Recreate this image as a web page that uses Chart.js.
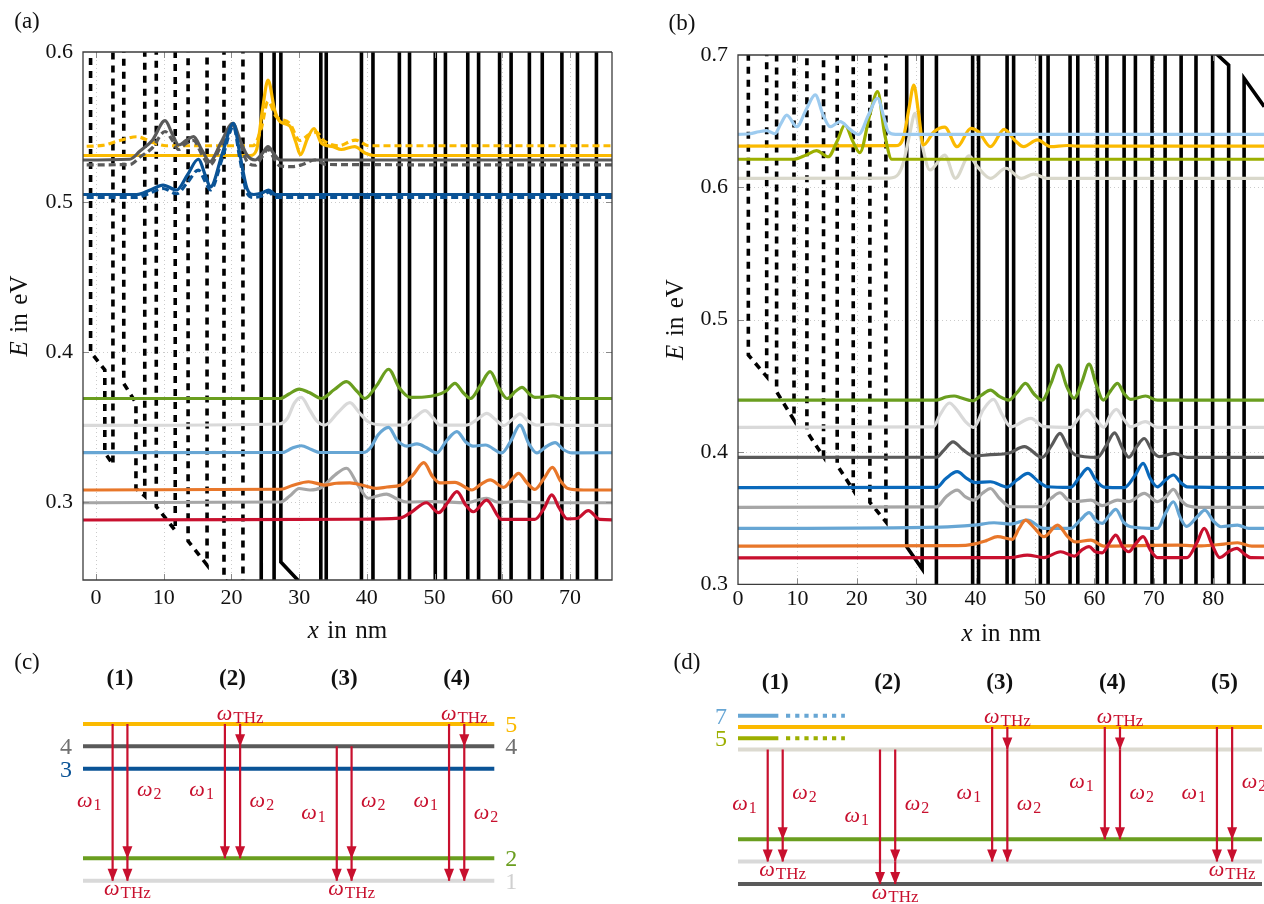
<!DOCTYPE html>
<html>
<head>
<meta charset="utf-8">
<script src="https://cdn.jsdelivr.net/npm/chart.js@4.4.1/dist/chart.umd.min.js"></script>
<style>
html,body{margin:0;padding:0;background:#fff;width:1264px;height:904px;overflow:hidden;position:relative;}
canvas{position:absolute;display:block;}
</style>
</head>
<body>
<canvas id="pa" width="640" height="650" style="left:0px;top:0px;width:640px;height:650px"></canvas>
<canvas id="pb" width="640" height="650" style="left:640px;top:0px;width:640px;height:650px"></canvas>
<canvas id="pc" width="640" height="254" style="left:0px;top:650px;width:640px;height:254px"></canvas>
<canvas id="pd" width="640" height="254" style="left:640px;top:650px;width:640px;height:254px"></canvas>
<script>
const SERIF = '"Liberation Serif","DejaVu Serif",serif';
const RED = '#c8102e';

/* ===================== panel (a) data ===================== */
const aXTicks = [0,10,20,30,40,50,60,70];
const aYTicks = [0.3,0.4,0.5,0.6];
const aPotDashed = [[-0.8,0.7],[-0.8,0.400],[1.3,0.388],[1.3,0.333],[2.5,0.325],[2.5,0.7],[4.1,0.7],[4.1,0.379],[5.9,0.366],[5.9,0.309],[7.2,0.304],[7.2,0.7],[8.9,0.7],[8.9,0.297],[11.7,0.281],[11.7,0.7],[13.6,0.7],[13.6,0.274],[16.4,0.258],[16.4,0.7],[18.9,0.7],[18.9,0.249],[21.7,0.235],[21.7,0.7]];
const aPotSolid = [[24.4,0.7],[24.4,0.2],[26.3,0.2],[26.3,0.7],[27.3,0.7],[27.3,0.260],[30.0,0.247],[33.2,0.232],[33.2,0.7],[34.0,0.7],[34.0,0.2],[39.2,0.2],[39.2,0.7],[40.9,0.7],[40.9,0.2],[44.8,0.2],[44.8,0.7],[46.3,0.7],[46.3,0.2],[50.1,0.2],[50.1,0.7],[51.6,0.7],[51.6,0.2],[54.9,0.2],[54.9,0.7],[56.5,0.7],[56.5,0.2],[59.6,0.2],[59.6,0.7],[61.3,0.7],[61.3,0.2],[64.0,0.2],[64.0,0.7],[65.9,0.7],[65.9,0.2],[68.8,0.2],[68.8,0.7],[71.1,0.7],[71.1,0.2],[73.9,0.2],[73.9,0.7],[80,0.7]];
const aYellow = [[-3,0.531],[22.8,0.531],[23.7,0.5347],[24.6,0.562],[25.4,0.5813],[26.4,0.561],[27.2,0.5535],[28.6,0.5507],[29.5,0.540],[30.2,0.5315],[31.2,0.542],[32.2,0.549],[33.3,0.5391],[35.0,0.5369],[36.2,0.535],[38.2,0.5369],[39.8,0.5325],[41,0.531],[78,0.531]];
const aYellowDash = [[-3,0.537],[1,0.5378],[3.5,0.541],[6.0,0.5435],[8.5,0.5395],[10.4,0.5375],[23.2,0.5375],[24.4,0.549],[25.4,0.567],[26.6,0.557],[28.6,0.5524],[30.1,0.541],[31.5,0.545],[32.6,0.5465],[33.6,0.541],[35.8,0.5375],[38.3,0.5413],[40.3,0.5375],[78,0.5375]];
const aDarkGray = [[-3,0.528],[5,0.5285],[6.5,0.534],[8.3,0.541],[10.2,0.5542],[11.3,0.545],[12.2,0.538],[13.3,0.541],[14.4,0.5436],[15.6,0.535],[16.8,0.5269],[18.5,0.540],[20.2,0.5525],[21.3,0.541],[22.3,0.5313],[23.5,0.528],[24.5,0.532],[25.4,0.5369],[26.3,0.532],[27.2,0.528],[78,0.528]];
const aDarkGrayDash = [[-3,0.5247],[5,0.525],[6.5,0.530],[8.3,0.536],[10.2,0.547],[11.3,0.541],[12.2,0.535],[13.3,0.539],[14.4,0.541],[15.6,0.532],[16.8,0.5245],[18.5,0.538],[20.2,0.551],[21.3,0.539],[22.3,0.527],[23.5,0.5245],[24.5,0.530],[25.4,0.535],[26.3,0.529],[27.2,0.524],[29,0.5236],[30.5,0.525],[32.3,0.528],[34,0.525],[78,0.5247]];
const aBlue = [[-3,0.505],[6,0.505],[8,0.508],[9.9,0.5113],[11.9,0.508],[13.5,0.518],[15.1,0.5285],[16.2,0.517],[16.9,0.510],[18.7,0.533],[20.3,0.5525],[21.2,0.533],[22.3,0.509],[23.3,0.505],[24.5,0.506],[25.5,0.508],[26.5,0.505],[78,0.505]];
const aBlueDash = [[-3,0.5031],[6,0.5031],[8,0.506],[9.9,0.509],[11.9,0.5055],[13.5,0.513],[15.1,0.5213],[16.2,0.513],[16.9,0.508],[18.7,0.530],[20.3,0.5505],[21.2,0.530],[22.3,0.506],[23.3,0.5031],[24.5,0.504],[25.5,0.5065],[26.5,0.5031],[78,0.5031]];
const aGreen = [[-3,0.369],[27.2,0.369],[28.5,0.372],[30.0,0.3753],[31.5,0.373],[33.3,0.369],[35.2,0.375],[37.0,0.3802],[38.5,0.374],[39.7,0.369],[41.5,0.378],[43.2,0.3885],[44.8,0.376],[46.4,0.3698],[48.5,0.370],[50.3,0.3713],[51.7,0.374],[53.0,0.3791],[54.2,0.373],[55.3,0.369],[56.8,0.378],[58.2,0.3869],[59.5,0.376],[60.7,0.369],[62.0,0.374],[62.9,0.3764],[64.0,0.372],[64.8,0.3698],[66,0.370],[67.5,0.3707],[69.4,0.369],[78,0.369]];
const aLightGray = [[-3,0.3511],[27.0,0.352],[28.3,0.356],[29.3,0.366],[30.3,0.3698],[31.6,0.361],[32.6,0.354],[33.8,0.3513],[35.8,0.360],[37.5,0.3662],[38.8,0.360],[40.2,0.3535],[42,0.3515],[45.4,0.3513],[47,0.356],[48.6,0.3609],[49.8,0.356],[50.8,0.3513],[54.7,0.3513],[56.3,0.355],[57.7,0.3591],[59,0.355],[60.2,0.351],[61.5,0.355],[62.6,0.3587],[63.8,0.354],[65.1,0.3513],[67.5,0.352],[69,0.3511],[78,0.3511]];
const aLightBlue = [[-3,0.3329],[27.5,0.333],[29,0.336],[30.3,0.3375],[31.8,0.335],[33.1,0.333],[39.5,0.333],[40.5,0.336],[41.7,0.345],[43.2,0.3498],[44.5,0.341],[45.9,0.3373],[47.4,0.3387],[48.9,0.336],[50.3,0.3327],[51.8,0.341],[53.3,0.3469],[54.6,0.340],[55.7,0.3373],[57.5,0.338],[59.9,0.3327],[61.3,0.341],[62.6,0.3513],[63.9,0.339],[65.1,0.3327],[66.5,0.337],[67.8,0.3396],[69,0.335],[70.3,0.3327],[78,0.3329]];
const aOrange = [[-3,0.308],[27.3,0.3085],[29,0.311],[31.4,0.3135],[33.8,0.3113],[35.5,0.3125],[37.5,0.3127],[39.5,0.311],[41.4,0.3091],[43,0.310],[45.0,0.3113],[46.8,0.318],[48.4,0.3262],[49.7,0.317],[50.8,0.3127],[53.0,0.3131],[55.5,0.308],[56.9,0.312],[58.2,0.3147],[60.2,0.3098],[61.4,0.315],[62.4,0.3191],[63.6,0.313],[64.8,0.3084],[66.2,0.316],[67.4,0.3231],[68.6,0.314],[69.7,0.309],[72,0.308],[78,0.308]];
const aGray = [[-3,0.2995],[27.3,0.300],[28.6,0.304],[30.0,0.309],[31.6,0.308],[33.2,0.3095],[35.3,0.318],[37.0,0.3225],[38.6,0.312],[40.2,0.3025],[41.5,0.304],[42.9,0.3053],[44.5,0.302],[45.9,0.300],[49.8,0.3003],[54.7,0.2995],[56.2,0.301],[57.7,0.3025],[59.2,0.300],[60.2,0.2998],[62.5,0.3005],[65,0.2995],[78,0.2995]];
const aRed = [[-3,0.288],[38,0.2885],[44.9,0.2893],[46.5,0.293],[48.8,0.2995],[50.6,0.2929],[52,0.300],[53.3,0.3069],[54.6,0.298],[55.7,0.2935],[57.7,0.3013],[59.9,0.2884],[64.8,0.2884],[66.2,0.296],[67.3,0.3047],[68.4,0.296],[69.6,0.2887],[71,0.289],[72.7,0.2942],[74.4,0.2884],[78,0.288]];

/* ===================== panel (b) data ===================== */
const bXTicks = [0,10,20,30,40,50,60,70,80];
const bYTicks = [0.3,0.4,0.5,0.6,0.7];
const bPotDashed = [[1.74,0.75],[1.74,0.4733],[4.83,0.4569],[4.83,0.75],[6.5,0.75],[6.5,0.4455],[9.43,0.4241],[9.43,0.75],[11.6,0.75],[11.6,0.4153],[14.4,0.3964],[14.4,0.75],[16.7,0.75],[16.7,0.390],[19.4,0.3712],[19.4,0.75],[22.2,0.75],[22.2,0.362],[24.9,0.3472],[24.9,0.75]];
const bPotSolid = [[28.4,0.75],[28.4,0.3284],[31.0,0.3115],[31.0,0.75],[33.4,0.75],[33.4,0.25],[39.5,0.25],[39.5,0.75],[40.5,0.75],[40.5,0.25],[45.3,0.25],[45.3,0.75],[46.4,0.75],[46.4,0.25],[50.9,0.25],[50.9,0.75],[52.2,0.75],[52.2,0.25],[55.9,0.25],[55.9,0.75],[57.2,0.75],[57.2,0.25],[60.5,0.25],[60.5,0.75],[62.1,0.75],[62.1,0.25],[65.0,0.25],[65.0,0.75],[66.9,0.75],[66.9,0.25],[69.7,0.25],[69.7,0.75],[71.9,0.75],[71.9,0.25],[74.6,0.25],[74.6,0.75],[77.1,0.75],[77.1,0.25],[79.9,0.25],[79.9,0.7035],[82.6,0.6924],[82.6,0.25],[85.2,0.25],[85.2,0.6824],[88.6,0.661],[92,0.640]];
const bSkyBlue = [[-1,0.640],[2,0.6405],[3.5,0.642],[4.8,0.6428],[6.2,0.6405],[7.2,0.648],[8.2,0.6546],[9.9,0.6458],[11.5,0.659],[13.0,0.6698],[14.3,0.655],[15.5,0.6458],[17.2,0.6496],[18.8,0.644],[20.3,0.640],[22,0.655],[23.5,0.6673],[24.5,0.654],[25.3,0.642],[26.5,0.640],[92,0.640]];
const bYellow = [[-1,0.6312],[26.5,0.6315],[27.8,0.637],[28.8,0.660],[29.6,0.6773],[30.4,0.656],[31.2,0.632],[33,0.642],[34.8,0.6455],[36.9,0.6307],[39.2,0.6446],[40.5,0.642],[42.5,0.6307],[44.8,0.6438],[46.5,0.636],[48.1,0.6307],[50.4,0.6358],[52.6,0.6307],[55.4,0.6316],[57,0.6312],[92,0.6312]];
const bOlive = [[-1,0.6212],[9.3,0.6212],[11.5,0.6245],[13.2,0.6277],[15.2,0.6231],[16.7,0.635],[18.0,0.6471],[19.3,0.635],[20.5,0.6262],[22.2,0.655],[23.5,0.6723],[24.7,0.640],[25.9,0.6212],[92,0.6212]];
const bBeige = [[-1,0.6068],[25.5,0.607],[27.0,0.610],[27.8,0.618],[28.9,0.640],[29.8,0.6559],[30.8,0.636],[32.3,0.6131],[34.8,0.6244],[36.6,0.6068],[38.9,0.6237],[40.3,0.6156],[42.5,0.6068],[45.1,0.6144],[47.7,0.6068],[49.8,0.610],[52,0.6068],[92,0.6068]];
const bGreen = [[-1,0.4392],[33.4,0.4392],[35,0.4415],[36.4,0.4423],[37.5,0.441],[39.5,0.4387],[41,0.443],[42.5,0.4468],[44,0.442],[45.6,0.4392],[47,0.445],[48.4,0.4518],[49.8,0.444],[51.2,0.4392],[52.7,0.452],[54.0,0.4657],[55.3,0.450],[56.6,0.4405],[57.9,0.453],[59.1,0.4664],[60.3,0.451],[61.5,0.4392],[62.7,0.446],[63.9,0.4518],[65,0.444],[66.1,0.4397],[68.6,0.4423],[70.6,0.4392],[92,0.4392]];
const bLightGray = [[-1,0.4186],[32.9,0.419],[34,0.428],[35.6,0.437],[36.8,0.432],[38.3,0.423],[39.7,0.4186],[41.3,0.432],[43.0,0.4397],[44.5,0.428],[45.9,0.4191],[49.3,0.4254],[51.5,0.4191],[56,0.4186],[57.4,0.426],[58.8,0.4317],[60.2,0.425],[61.6,0.4186],[62.6,0.427],[63.7,0.4322],[64.9,0.425],[66.1,0.419],[68.6,0.4229],[70.6,0.4186],[92,0.4186]];
const bDarkGray = [[-1,0.3959],[33.4,0.396],[34.6,0.401],[36.2,0.4077],[37.8,0.402],[39.7,0.3969],[42.5,0.398],[45.5,0.399],[48.2,0.404],[51.2,0.3959],[52.8,0.405],[54.2,0.414],[55.5,0.404],[56.8,0.3977],[60.5,0.3959],[62,0.405],[63.4,0.4145],[64.7,0.403],[65.8,0.396],[67.1,0.404],[68.4,0.4102],[69.7,0.401],[70.9,0.3965],[73.4,0.3989],[75.6,0.3959],[92,0.3959]];
const bBlue = [[-1,0.373],[33.4,0.3732],[35,0.380],[36.9,0.3851],[38.5,0.380],[40.0,0.3768],[42.5,0.3775],[45.3,0.3735],[47,0.379],[48.8,0.3838],[50.5,0.378],[52.1,0.3737],[56,0.3732],[57.5,0.381],[58.9,0.3876],[60.2,0.379],[61.6,0.3735],[65,0.373],[66.8,0.382],[68.2,0.3914],[69.4,0.380],[70.6,0.3737],[72,0.379],[73.3,0.3826],[74.5,0.377],[75.6,0.3737],[92,0.373]];
const bGray = [[-1,0.3581],[33.4,0.3585],[35,0.366],[36.9,0.3712],[38.3,0.366],[39.7,0.3636],[41.2,0.369],[42.5,0.3724],[44,0.365],[45.9,0.3586],[51,0.3586],[52.7,0.365],[54.2,0.3692],[55.5,0.364],[56.8,0.3624],[59.4,0.3636],[61.3,0.3595],[63.9,0.3636],[65.8,0.3625],[68.4,0.3687],[70.6,0.3625],[72,0.366],[73.3,0.3717],[74.5,0.364],[75.6,0.3595],[78,0.3581],[92,0.3581]];
const bLightBlue = [[-1,0.3422],[34,0.3432],[39.7,0.3447],[43.1,0.3465],[45.9,0.3455],[48.7,0.3485],[51.5,0.3422],[56,0.3422],[57.7,0.349],[59.1,0.3541],[60.3,0.348],[61.3,0.346],[62.5,0.352],[63.6,0.3566],[64.9,0.347],[66.1,0.3435],[70.6,0.3422],[72,0.354],[73.3,0.3624],[74.5,0.350],[75.5,0.3437],[77.3,0.351],[78.6,0.3561],[80,0.348],[81.3,0.3435],[84.1,0.3447],[86,0.3422],[92,0.3422]];
const bOrange = [[-1,0.3289],[37,0.3292],[39.7,0.3304],[41.8,0.333],[43.7,0.336],[46.2,0.334],[47.3,0.342],[48.4,0.3485],[49.8,0.343],[51.5,0.336],[53.8,0.3447],[55.5,0.336],[56.8,0.332],[59.4,0.3334],[61.6,0.3289],[74,0.3296],[78,0.329],[81.8,0.3304],[84.1,0.3314],[86.5,0.3289],[92,0.3289]];
const bRed = [[-1,0.32],[45.9,0.3202],[48.7,0.3221],[51.5,0.3202],[54.3,0.3246],[56.6,0.3213],[57.9,0.326],[59.1,0.3284],[60.2,0.3245],[61.3,0.3238],[62.5,0.331],[63.6,0.3372],[64.8,0.328],[65.8,0.3246],[67,0.331],[68.2,0.336],[69.4,0.326],[70.6,0.3202],[75.6,0.3202],[77.2,0.331],[78.5,0.3422],[79.8,0.330],[81.1,0.3202],[82.7,0.325],[84,0.3271],[85.2,0.323],[86.3,0.3202],[92,0.32]];

/* ===================== panel (c) data ===================== */
const cLevelNames = ['1','2','3','4','5'];
const cLevelEnergy = [0,1,5,6,7];            // schematic level heights
const cProcessNames = ['(1)','(2)','(3)','(4)'];
// [process, lane, from, to, photon]
const cTransitions = [
  [0,0,'5','1','1'],[0,1,'5','2','2'],[0,1,'2','1','THz'],
  [1,0,'5','2','1'],[1,1,'5','4','THz'],[1,1,'4','2','2'],
  [2,0,'4','1','1'],[2,1,'4','2','2'],[2,1,'2','1','THz'],
  [3,0,'5','1','1'],[3,1,'5','4','THz'],[3,1,'4','1','2']];
const cLeftLabels = ['4','3'];
const cRightLabels = ['5','4','2','1'];

/* ===================== panel (d) data ===================== */
const dLevelNames = ['1','2','3','4','5','6','7'];
const dLevelEnergy = [0,2,4,12,13,14,15];
const dProcessNames = ['(1)','(2)','(3)','(4)','(5)'];
const dTransitions = [
  [0,0,'4','2','1'],[0,1,'4','3','2'],[0,1,'3','2','THz'],
  [1,0,'4','1','1'],[1,1,'4','2','2'],[1,1,'2','1','THz'],
  [2,0,'6','2','1'],[2,1,'6','4','THz'],[2,1,'4','2','2'],
  [3,0,'6','3','1'],[3,1,'6','4','THz'],[3,1,'4','3','2'],
  [4,0,'6','2','1'],[4,1,'6','3','2'],[4,1,'3','2','THz']];
const dPartialLevels = ['5','7'];
const dLeftLabels = ['7','5'];
const dRightLabels = [];

/* ===================== styles / layout ===================== */
const C = {yellow:'#fbba00', dgray:'#5a5a5a', blue:'#0a5396', green:'#6a9e1f', lgray:'#d9d9d9',
  lblue:'#67a6d4', orange:'#e8772a', gray:'#a6a6a6', red:'#c8102e', sky:'#9dcbef', olive:'#9caf00',
  beige:'#d9d8cb', blue2:'#0a69bb'};

const toXY = a => a.map(p => ({x:p[0], y:p[1]}));

function drawWords(ctx, words, italics, cx, base, size) {
  const gap = size * 0.34;
  const ws = words.map((w,i) => { ctx.font = (italics[i]?'italic ':'') + size + 'px ' + SERIF; return ctx.measureText(w).width; });
  const total = ws.reduce((s,w)=>s+w,0) + gap*(words.length-1);
  let x = cx - total/2;
  ctx.textAlign = 'left'; ctx.textBaseline = 'alphabetic';
  words.forEach((w,i) => { ctx.font = (italics[i]?'italic ':'') + size + 'px ' + SERIF; ctx.fillText(w, x, base); x += ws[i] + gap; });
}

function makeFrame(cfg) {
  return {
    id: 'frame',
    beforeDatasetsDraw(chart) {
      const {ctx, chartArea:a} = chart, sx = chart.scales.x, sy = chart.scales.y;
      ctx.save();
      ctx.strokeStyle = '#cbcbcb'; ctx.lineWidth = 1; ctx.setLineDash([1,3]);
      cfg.xTicks.forEach(v => { const p = Math.round(sx.getPixelForValue(v)) + 0.5;
        if (p > a.left + 2 && p < a.right - 2) { ctx.beginPath(); ctx.moveTo(p, a.top); ctx.lineTo(p, a.bottom); ctx.stroke(); } });
      cfg.yTicks.forEach(v => { const p = Math.round(sy.getPixelForValue(v)) + 0.5;
        if (p > a.top + 2 && p < a.bottom - 2) { ctx.beginPath(); ctx.moveTo(a.left, p); ctx.lineTo(a.right, p); ctx.stroke(); } });
      ctx.restore();
    },
    afterDatasetsDraw(chart) {
      const {ctx, chartArea:a} = chart, sx = chart.scales.x, sy = chart.scales.y;
      ctx.save();
      ctx.strokeStyle = '#8a8a8a'; ctx.lineWidth = 1;
      const tl = 6;
      cfg.xTicks.forEach(v => { const p = Math.round(sx.getPixelForValue(v)) + 0.5;
        if (p > a.left + 2 && p < a.right - 2) { ctx.beginPath(); ctx.moveTo(p, a.bottom); ctx.lineTo(p, a.bottom - tl); ctx.moveTo(p, a.top); ctx.lineTo(p, a.top + tl); ctx.stroke(); } });
      cfg.yTicks.forEach(v => { const p = Math.round(sy.getPixelForValue(v)) + 0.5;
        if (p > a.top + 2 && p < a.bottom - 2) { ctx.beginPath(); ctx.moveTo(a.left, p); ctx.lineTo(a.left + tl, p);
          if (cfg.right) { ctx.moveTo(a.right, p); ctx.lineTo(a.right - tl, p); } ctx.stroke(); } });
      ctx.strokeStyle = '#3c3c3c'; ctx.lineWidth = 1.3;
      ctx.beginPath();
      ctx.moveTo(a.right + (cfg.right?0:20), a.top); ctx.lineTo(a.left, a.top); ctx.lineTo(a.left, a.bottom); ctx.lineTo(a.right + (cfg.right?0:20), a.bottom);
      if (cfg.right) ctx.lineTo(a.right, a.top);
      ctx.stroke();
      ctx.restore();
    },
    afterDraw(chart) {
      const {ctx, chartArea:a} = chart;
      ctx.save(); ctx.fillStyle = '#111';
      drawWords(ctx, ['x','in','nm'], [true,false,false], cfg.xTitleX !== undefined ? cfg.xTitleX : (a.left + a.right)/2, a.bottom + cfg.xTitleDy, 25);
      ctx.translate(a.left - cfg.yTitleDx, (a.top + a.bottom)/2); ctx.rotate(-Math.PI/2);
      drawWords(ctx, ['E','in','eV'], [true,false,false], 0, 0, 25);
      ctx.restore();
      ctx.save(); ctx.fillStyle = '#111'; ctx.font = '23px ' + SERIF; ctx.textAlign = 'center'; ctx.textBaseline = 'middle';
      ctx.fillText(cfg.panel, cfg.panelX, cfg.panelY);
      ctx.restore();
    }
  };
}

function bandChart(id, cfg) {
  const ds = [];
  cfg.pots.forEach(p => ds.push({data: toXY(p.d), borderColor:'#000', borderWidth:3.6, borderDash:p.dash||[],
    showLine:true, pointRadius:0, tension:0, order:20, clip:0, borderCapStyle:'butt', borderJoinStyle:'miter'}));
  cfg.states.forEach((s,i) => ds.push({data: toXY(s.d), borderColor:s.c, borderWidth:3.2, borderDash:s.dash?[7,4]:[],
    showLine:true, pointRadius:0, cubicInterpolationMode:'monotone', order:i, clip:0}));
  return new Chart(document.getElementById(id), {
    type:'scatter',
    data:{datasets:ds},
    options:{
      responsive:false, animation:false, events:[],
      layout:{padding:{left:0, right:cfg.padR, top:cfg.padT, bottom:0}},
      plugins:{legend:{display:false}, tooltip:{enabled:false}},
      scales:{
        x:{type:'linear', min:cfg.xMin, max:cfg.xMax, grid:{display:false, drawTicks:false}, border:{display:false},
          afterFit(s){ s.height = cfg.xAxisH; },
          afterBuildTicks(s){ s.ticks = cfg.xTicks.map(v => ({value:v})); },
          ticks:{font:{family:SERIF, size:22}, color:'#111', padding:cfg.xPad, autoSkip:false, maxRotation:0, minRotation:0,
            callback:(v) => String(v)}},
        y:{type:'linear', min:cfg.yMin, max:cfg.yMax, grid:{display:false, drawTicks:false}, border:{display:false},
          afterFit(s){ s.width = cfg.yAxisW; },
          afterBuildTicks(s){ s.ticks = cfg.yTicks.map(v => ({value:v})); },
          ticks:{font:{family:SERIF, size:22}, color:'#111', padding:10, autoSkip:false,
            callback:(v) => Number(v).toFixed(1)}}
      }
    },
    plugins:[makeFrame(cfg)]
  });
}

bandChart('pa', {
  xMin:-1.92, xMax:76.2, yMin:0.248, yMax:0.6, xTicks:aXTicks, yTicks:aYTicks,
  padR:28, padT:52, xAxisH:70, yAxisW:83, xPad:5, right:true,
  xTitleDy:58, yTitleDx:56, panel:'(a)', panelX:27, panelY:22,
  pots:[{d:aPotDashed, dash:[7,6]}, {d:aPotSolid}],
  states:[
    {d:aBlue, c:C.blue}, {d:aBlueDash, c:C.blue, dash:true},
    {d:aDarkGray, c:C.dgray}, {d:aDarkGrayDash, c:C.dgray, dash:true},
    {d:aYellow, c:C.yellow}, {d:aYellowDash, c:C.yellow, dash:true},
    {d:aRed, c:C.red}, {d:aOrange, c:C.orange}, {d:aGray, c:C.gray},
    {d:aLightBlue, c:C.lblue}, {d:aLightGray, c:C.lgray}, {d:aGreen, c:C.green}
  ]
});

bandChart('pb', {
  xMin:0, xMax:88.6, yMin:0.3, yMax:0.7, xTicks:bXTicks, yTicks:bYTicks,
  padR:15.7, padT:55, xAxisH:65.7, yAxisW:98, xPad:2, right:false,
  xTitleDy:57, yTitleDx:55, panel:'(b)', panelX:42, panelY:24,
  pots:[{d:bPotDashed, dash:[7,6]}, {d:bPotSolid}],
  states:[
    {d:bSkyBlue, c:C.sky}, {d:bOlive, c:C.olive}, {d:bYellow, c:C.yellow}, {d:bBeige, c:C.beige},
    {d:bRed, c:C.red}, {d:bOrange, c:C.orange}, {d:bLightBlue, c:C.lblue}, {d:bGray, c:C.gray},
    {d:bBlue, c:C.blue2}, {d:bDarkGray, c:C.dgray}, {d:bLightGray, c:C.lgray}, {d:bGreen, c:C.green}
  ]
});

/* ===================== level diagrams ===================== */
function omega(ctx, sub, x, base, align, subSize) {
  ctx.font = 'italic 22px ' + SERIF;
  const w1 = ctx.measureText('\u03c9').width;
  ctx.font = subSize + 'px ' + SERIF;
  const w2 = ctx.measureText(sub).width;
  const tot = w1 + 1 + w2;
  const x0 = align === 'right' ? x - tot : (align === 'center' ? x - tot/2 : x);
  ctx.textAlign = 'left'; ctx.textBaseline = 'alphabetic';
  ctx.font = 'italic 22px ' + SERIF; ctx.fillText('\u03c9', x0, base);
  ctx.font = subSize + 'px ' + SERIF; ctx.fillText(sub, x0 + w1 + 1, base + 3);
}

function diagChart(id, cfg) {
  const E = {}; cfg.names.forEach((n,i) => E[n] = cfg.energy[i]);
  const ds = [];
  cfg.names.forEach(n => {
    if (cfg.partial.includes(n)) {
      ds.push({data: toXY([[0,E[n]],[cfg.partSolid,E[n]]]), borderColor:cfg.levelColor[n], borderWidth:4, showLine:true, pointRadius:0, order:20, clip:false});
      ds.push({data: toXY([[cfg.partDot[0],E[n]],[cfg.partDot[1],E[n]]]), borderColor:cfg.levelColor[n], borderWidth:4, borderDash:[4.2,5], showLine:true, pointRadius:0, order:20, clip:false});
    } else {
      ds.push({data: toXY([[0,E[n]],[10,E[n]]]), borderColor:cfg.levelColor[n], borderWidth:4, showLine:true, pointRadius:0, order:20, clip:false});
    }
  });
  cfg.trans.forEach(t => {
    const lx = cfg.laneX[t[0]][t[1]];
    ds.push({data: toXY([[lx,E[t[2]]],[lx,E[t[3]]]]), borderColor:RED, borderWidth:2.2, showLine:true, pointRadius:0, order:1, clip:false, arrowHead:true});
  });
  const plugin = {
    id:'diag',
    afterDatasetsDraw(chart) {
      const {ctx, chartArea:a} = chart, sx = chart.scales.x, sy = chart.scales.y;
      ctx.save();
      ctx.fillStyle = RED;
      chart.data.datasets.forEach((d,i) => {
        if (!d.arrowHead) return;
        const pts = chart.getDatasetMeta(i).data; const p = pts[pts.length-1];
        ctx.beginPath(); ctx.moveTo(p.x, p.y + 0.5); ctx.lineTo(p.x - 5, p.y - 12); ctx.lineTo(p.x + 5, p.y - 12); ctx.closePath(); ctx.fill();
      });
      // omega labels
      cfg.trans.forEach(t => {
        const lx = sx.getPixelForValue(cfg.laneX[t[0]][t[1]]);
        const y1 = sy.getPixelForValue(E[t[2]]), y2 = sy.getPixelForValue(E[t[3]]);
        ctx.fillStyle = RED;
        if (t[4] === '1') omega(ctx, '1', lx - 11, (y1+y2)/2 + 5, 'right', 16);
        else if (t[4] === '2') omega(ctx, '2', lx + 9.5, (y1+y2)/2 + 5, 'left', 16);
        else {
          const w1 = cfg.trans.find(u => u[0] === t[0] && u[4] === '1');
          if (w1 && w1[2] === t[2]) omega(ctx, 'THz', lx, y1 - 3.5, 'center', 17);
          else omega(ctx, 'THz', lx, y2 + 14.5, 'center', 17);
        }
      });
      // process titles
      ctx.fillStyle = '#111'; ctx.font = 'bold 23px ' + SERIF; ctx.textAlign = 'center'; ctx.textBaseline = 'middle';
      cfg.procNames.forEach((n,i) => {
        const cx = sx.getPixelForValue((cfg.laneX[i][0] + cfg.laneX[i][1]) / 2);
        ctx.fillText(n, cx, cfg.titleY);
      });
      // level number labels
      ctx.font = '24px ' + SERIF; ctx.textBaseline = 'alphabetic';
      ctx.textAlign = 'right';
      cfg.left.forEach(n => { ctx.fillStyle = cfg.labelColor[n]; ctx.fillText(n, a.left - 11, sy.getPixelForValue(E[n]) + 8); });
      ctx.textAlign = 'left';
      cfg.right.forEach(n => { ctx.fillStyle = cfg.labelColor[n]; ctx.fillText(n, a.right + 11, sy.getPixelForValue(E[n]) + 8); });
      ctx.restore();
      ctx.save(); ctx.fillStyle = '#111'; ctx.font = '23px ' + SERIF; ctx.textAlign = 'center'; ctx.textBaseline = 'middle';
      ctx.fillText(cfg.panel, cfg.panelX, cfg.panelY); ctx.restore();
    }
  };
  return new Chart(document.getElementById(id), {
    type:'scatter',
    data:{datasets:ds},
    options:{
      responsive:false, animation:false, events:[],
      layout:{padding:cfg.pad},
      plugins:{legend:{display:false}, tooltip:{enabled:false}},
      scales:{ x:{type:'linear', display:false, min:0, max:10}, y:{type:'linear', display:false, min:cfg.yMin, max:cfg.yMax} }
    },
    plugins:[plugin]
  });
}

diagChart('pc', {
  names:cLevelNames, energy:cLevelEnergy, trans:cTransitions, procNames:cProcessNames,
  left:cLeftLabels, right:cRightLabels, partial:[],
  laneX:[[0.72,1.08],[3.45,3.82],[6.17,6.53],[8.9,9.27]],
  levelColor:{'1':C.lgray,'2':C.green,'3':C.blue,'4':C.dgray,'5':C.yellow},
  labelColor:{'1':'#d0d0d0','2':C.green,'3':C.blue,'4':'#707070','5':C.yellow},
  pad:{left:83, right:145.7, top:51.5, bottom:0.9}, yMin:-1, yMax:8, titleY:29,
  panel:'(c)', panelX:27, panelY:13
});

diagChart('pd', {
  names:dLevelNames, energy:dLevelEnergy, trans:dTransitions, procNames:dProcessNames,
  left:dLeftLabels, right:dRightLabels, partial:dPartialLevels, partSolid:0.77, partDot:[0.916,2.04],
  laneX:[[0.567,0.853],[2.71,3.0],[4.85,5.14],[7.0,7.29],[9.14,9.43]],
  levelColor:{'1':C.dgray,'2':C.lgray,'3':C.green,'4':'#dcdad0','5':C.olive,'6':C.yellow,'7':C.lblue},
  labelColor:{'5':C.olive,'7':C.lblue},
  pad:{left:98, right:18, top:43.3, bottom:0}, yMin:-1.78, yMax:17, titleY:33,
  panel:'(d)', panelX:47, panelY:13
});
</script>
</body>
</html>
